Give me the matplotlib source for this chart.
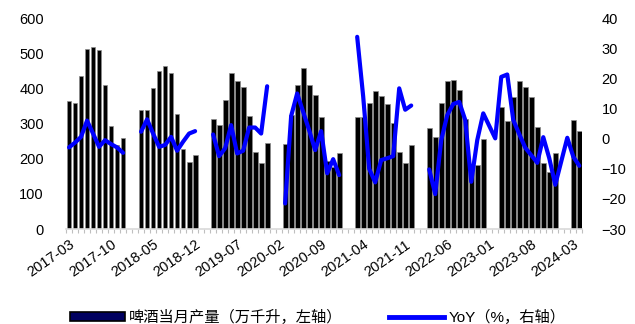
import numpy as np
import pandas as pd
import matplotlib
matplotlib.use("Agg")
import matplotlib.pyplot as plt
from matplotlib.patches import Patch
from matplotlib.lines import Line2D

plt.rcParams["font.family"] = ["Liberation Sans", "Noto Sans CJK SC", "DejaVu Sans"]

nan = np.nan

# monthly categories 2017-03 .. 2024-04
months = [p.strftime("%Y-%m") for p in pd.period_range("2017-03", "2024-04", freq="M")]

# beer output, 10k kilolitres (Jan/Feb not published)
output_2017 = [364, 360, 434, 512, 519, 509, 411, 294, 240, 258]
output_2018 = [nan, nan, 338, 338, 400, 449, 463, 443, 326, 227, 191, 210]
output_2019 = [nan, nan, 312, 295, 367, 443, 421, 405, 321, 219, 189, 244]
output_2020 = [nan, nan, 242, 325, 409, 457, 409, 381, 319, 195, 177, 215]
output_2021 = [nan, nan, 319, 318, 360, 392, 379, 355, 302, 220, 189, 238]
output_2022 = [nan, nan, 287, 261, 360, 422, 425, 396, 313, 186, 182, 257]
output_2023 = [nan, nan, 346, 308, 376, 422, 405, 376, 289, 187, 161, 217]
output_2024 = [nan, nan, 310, 279]

# YoY, %
yoy_2017 = [-2.9, -1.3, 0.6, 6.0, 1.7, -2.7, -0.5, -1.8, -2.9, -4.7]
yoy_2018 = [nan, nan, 2.3, 6.4, 1.7, -2.7, -2.1, 0.6, -4.0, -1.0, 1.7, 2.5]
yoy_2019 = [nan, nan, 1.4, -5.8, -3.2, 4.5, -4.9, -4.0, 3.7, 3.7, 1.7, 17.4]
yoy_2020 = [nan, nan, -21.5, 7.5, 15.0, 8.9, 2.8, -3.8, 2.5, -11.5, -6.8, -12.1]
yoy_2021 = [nan, nan, 33.8, 14.0, -10.0, -14.5, -7.1, -6.5, -5.8, 16.7, 9.6, 11.0]
yoy_2022 = [nan, nan, -10.2, -18.4, -0.5, 7.8, 11.5, 12.2, 6.2, -14.3, -0.5, 8.4]
yoy_2023 = [nan, 0.1, 20.5, 21.3, 6.2, 1.5, -3.0, -5.5, -8.0, 0.5, -6.5, -15.3]
yoy_2024 = [nan, 0.3, -6.0, -9.0]

output = np.array(output_2017 + output_2018 + output_2019 + output_2020
                  + output_2021 + output_2022 + output_2023 + output_2024)
yoy = np.array(yoy_2017 + yoy_2018 + yoy_2019 + yoy_2020
               + yoy_2021 + yoy_2022 + yoy_2023 + yoy_2024)

x = np.arange(len(months))

fig = plt.figure(figsize=(6.35, 3.24), dpi=100)
ax = fig.add_axes([0.104, 0.293, 0.813, 0.651])
ax2 = ax.twinx()

ax.bar(x, output, width=0.8, color="black", edgecolor="#8c8c8c", linewidth=0.5, zorder=2)

# line is broken where both Jan and Feb are missing
valid = np.where(~np.isnan(yoy))[0]
segments = np.split(valid, np.where(np.diff(valid) > 2)[0] + 1)
for seg in segments:
    ax2.plot(x[seg], yoy[seg], color="#0000ff", linewidth=3, solid_capstyle="round",
             solid_joinstyle="round", zorder=3)

ax.set_xlim(-0.5, len(months) - 0.5)
ax.set_ylim(0, 600)
ax.set_yticks(range(0, 601, 100))
ax2.set_ylim(-30, 40)
ax2.set_yticks(range(-30, 41, 10))

ax.set_xticks(x[::7])
ax.set_xticklabels(months[::7], rotation=35, ha="right", rotation_mode="anchor")
ax.set_xticks(np.arange(-0.5, len(months), 1), minor=True)
ax.tick_params(axis="x", which="major", length=0, pad=6, labelsize=10.5)
ax.tick_params(axis="x", which="minor", length=3, color="#bfbfbf", width=0.8)
ax.tick_params(axis="y", length=0, pad=16, labelsize=10.5)
ax2.tick_params(axis="y", length=0, pad=14, labelsize=10.5)

for a in (ax, ax2):
    for side in ("left", "right", "top", "bottom"):
        a.spines[side].set_visible(False)
ax.spines["bottom"].set_visible(True)
ax.spines["bottom"].set_color("#d9d9d9")
ax.spines["bottom"].set_linewidth(1.2)

handles = [Patch(facecolor="#000060", edgecolor="black", linewidth=1.2),
           Line2D([0], [0], color="#0000ff", linewidth=3.5)]
labels = ["啤酒当月产量（万千升，左轴）", "YoY（%，右轴）"]
fig.legend(handles, labels, loc="lower center", bbox_to_anchor=(0.5, -0.045), ncol=2,
           frameon=False, fontsize=11, handlelength=3.6, handleheight=0.6,
           columnspacing=3.0, handletextpad=0.3)

fig.savefig("out.png", dpi=100)
